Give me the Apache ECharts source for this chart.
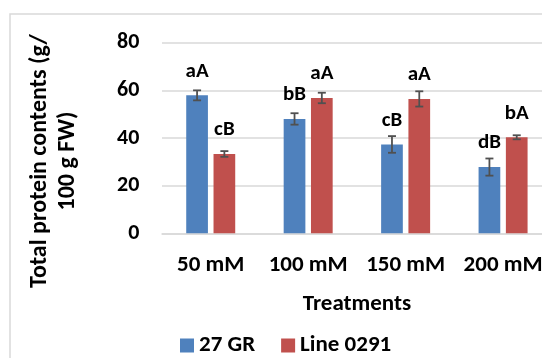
<!DOCTYPE html>
<html>
<head>
<meta charset="utf-8">
<script src="https://cdn.jsdelivr.net/npm/echarts@6/dist/echarts.min.js"></script>
<style>html,body{margin:0;padding:0;background:#fff;overflow:hidden}#c{width:570px;height:358px}</style>
</head>
<body>
<div id="c"></div>
<script>
var categories = ['50 mM', '100 mM', '150 mM', '200 mM'];
var seriesNames = ['27 GR', 'Line 0291'];
var gr27 = [57.9, 48.0, 37.3, 27.8];
var gr27Err = [2.1, 2.4, 3.5, 3.6];
var gr27Letters = ['aA', 'bB', 'cB', 'dB'];
var line0291 = [33.3, 56.8, 56.4, 40.3];
var line0291Err = [1.2, 2.2, 3.2, 0.85];
var line0291Letters = ['cB', 'aA', 'aA', 'bA'];
var yTicks = [0, 20, 40, 60, 80];

var FONT = 'Carlito, Lato, sans-serif';
var chart = echarts.init(document.getElementById('c'));
var BAR_W = 21.7, BAR_GAP = 5.6;

function errSeries(vals, errs, sign) {
  return {
    type: 'custom',
    z: 5,
    silent: true,
    data: vals.map(function (v, i) { return [i, v, errs[i]]; }),
    renderItem: function (params, api) {
      var i = api.value(0), v = api.value(1), e = api.value(2);
      var off = sign * (BAR_W + BAR_GAP) / 2;
      var top = api.coord([i, v + e]);
      var bot = api.coord([i, v - e]);
      var x = top[0] + off;
      var cap = 4;
      var st = { stroke: '#505050', lineWidth: 1.8 };
      return {
        type: 'group',
        children: [
          { type: 'line', shape: { x1: x, y1: top[1], x2: x, y2: bot[1] }, style: st },
          { type: 'line', shape: { x1: x - cap, y1: top[1], x2: x + cap, y2: top[1] }, style: st },
          { type: 'line', shape: { x1: x - cap, y1: bot[1], x2: x + cap, y2: bot[1] }, style: st }
        ]
      };
    }
  };
}

function barLabel(letters) {
  return {
    show: true,
    position: 'top',
    distance: 13.5,
    fontFamily: FONT,
    fontWeight: 'bold',
    fontSize: 21,
    color: '#000',
    formatter: function (p) { return letters[p.dataIndex]; }
  };
}

chart.setOption({
  animation: false,
  textStyle: { fontFamily: FONT },
  graphic: [
    { type: 'rect', shape: { x: 10, y: 14, width: 600, height: 400 }, style: { fill: 'none', stroke: '#d9d9d9', lineWidth: 1.5 }, z: -10 },
    { type: 'text', x: 54, y: 161, rotation: Math.PI / 2,
      style: { text: 'Total protein contents (g/\n100 g FW)', textAlign: 'center', textVerticalAlign: 'middle',
        fontFamily: FONT, fontWeight: 'bold', fontSize: 24, lineHeight: 28, fill: '#000' } }
  ],
  legend: {
    data: seriesNames,
    left: 180, top: 334, padding: 0,
    itemWidth: 14, itemHeight: 14, itemGap: 26,
    icon: 'rect',
    textStyle: { fontFamily: FONT, fontWeight: 'bold', fontSize: 23, color: '#000' }
  },
  grid: { left: 162, top: 42.7, width: 389.8, height: 190.6 },
  xAxis: {
    type: 'category',
    data: categories,
    axisLine: { lineStyle: { color: '#d9d9d9', width: 1.5 } },
    axisTick: { show: false },
    axisLabel: { interval: 0, hideOverlap: false, margin: 20.5, fontFamily: FONT, fontWeight: 'bold', fontSize: 23, color: '#000' },
    name: 'Treatments',
    nameLocation: 'middle',
    nameGap: 59,
    nameTextStyle: { fontFamily: FONT, fontWeight: 'bold', fontSize: 23, color: '#000' }
  },
  yAxis: {
    type: 'value',
    min: yTicks[0], max: yTicks[yTicks.length - 1], interval: yTicks[1] - yTicks[0],
    axisLine: { show: false },
    axisTick: { show: false },
    splitLine: { lineStyle: { color: '#d9d9d9', width: 1.5 } },
    axisLabel: { margin: 22.7, fontFamily: FONT, fontWeight: 'bold', fontSize: 22, color: '#000' }
  },
  series: [
    { name: seriesNames[0], type: 'bar', data: gr27, barWidth: BAR_W, barGap: (BAR_GAP / BAR_W * 100) + '%',
      itemStyle: { color: '#4F81BD' }, label: barLabel(gr27Letters) },
    { name: seriesNames[1], type: 'bar', data: line0291, barWidth: BAR_W,
      itemStyle: { color: '#C0504D' }, label: barLabel(line0291Letters) },
    errSeries(gr27, gr27Err, -1),
    errSeries(line0291, line0291Err, 1)
  ]
});
</script>
</body>
</html>
